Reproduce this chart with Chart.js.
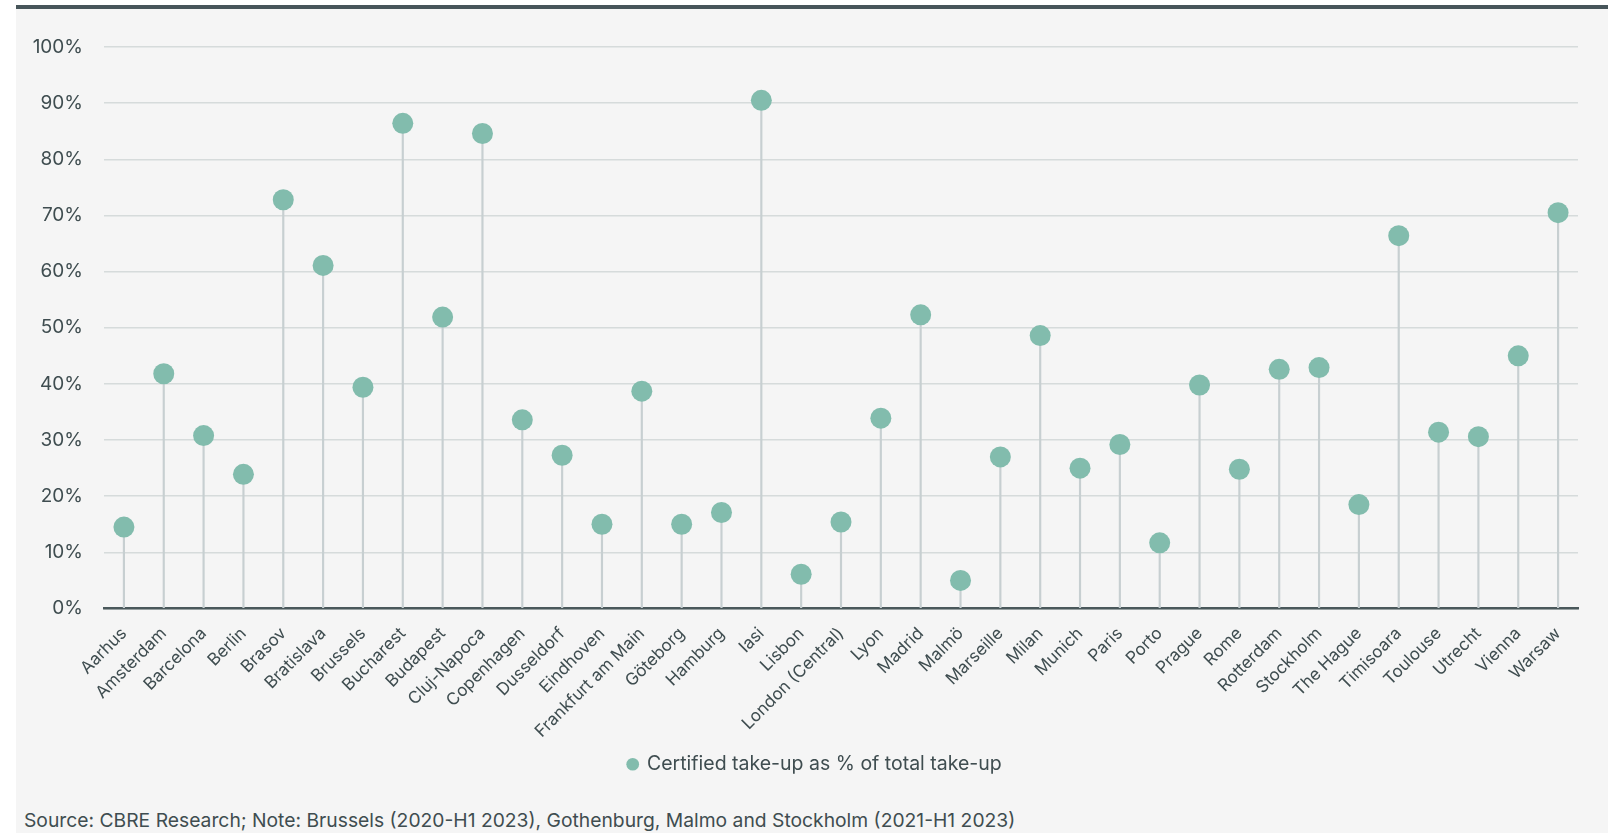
<!DOCTYPE html>
<html>
<head>
<meta charset="utf-8">
<script src="https://cdn.jsdelivr.net/npm/chart.js@4"></script>
<style>
  html, body { margin: 0; padding: 0; background: #ffffff; }
  body { width: 1616px; height: 833px; position: relative; overflow: hidden; font-family: 'Inter', sans-serif; }
  .panel { position: absolute; left: 16px; top: 5px; width: 1592px; height: 828px; background: #f5f5f5; border-top: 4px solid #47555a; box-sizing: border-box; }
  #chart { position: absolute; left: 0; top: 0; }
  .source { position: absolute; left: 8px; top: 799px; font-size: 19.3px; color: #3f4d50; white-space: nowrap; }
</style>
</head>
<body>
<div class="panel">
  <canvas id="chart" width="1592" height="781"></canvas>
  <div class="source">Source: CBRE Research; Note: Brussels (2020-H1 2023), Gothenburg, Malmo and Stockholm (2021-H1 2023)</div>
</div>
<script>
const CITIES = ['Aarhus', 'Amsterdam', 'Barcelona', 'Berlin', 'Brasov', 'Bratislava', 'Brussels', 'Bucharest',
  'Budapest', 'Cluj-Napoca', 'Copenhagen', 'Dusseldorf', 'Eindhoven', 'Frankfurt am Main', 'Göteborg', 'Hamburg',
  'Iasi', 'Lisbon', 'London (Central)', 'Lyon', 'Madrid', 'Malmö', 'Marseille', 'Milan', 'Munich', 'Paris', 'Porto',
  'Prague', 'Rome', 'Rotterdam', 'Stockholm', 'The Hague', 'Timisoara', 'Toulouse', 'Utrecht', 'Vienna', 'Warsaw'];

const CERTIFIED_SHARE = [14.5, 41.8, 30.8, 23.9, 72.8, 61.1, 39.4, 86.4, 51.9, 84.6, 33.6, 27.3, 15.0, 38.7, 15.0, 17.1,
  90.5, 6.1, 15.4, 33.9, 52.3, 5.0, 27.0, 48.6, 25.0, 29.2, 11.7, 39.8, 24.8, 42.6, 42.9, 18.5, 66.4, 31.4, 30.6, 45.0, 70.5];

const Y_TICKS = [0, 10, 20, 30, 40, 50, 60, 70, 80, 90, 100];

const TEXT = '#3f4d50';
const DOT = '#82bcad';
const STEM = '#c7cfd1';

// the right padding pulls the legend off-centre; nudge it back over the panel middle
const legendNudge = {
  id: 'legendNudge',
  afterLayout(chart) {
    chart.legend.left += 18;
    chart.legend.right += 18;
  },
};

const ctx = document.getElementById('chart').getContext('2d');
new Chart(ctx, {
  data: {
    labels: CITIES,
    datasets: [
      {
        type: 'line',
        label: 'Certified take-up as % of total take-up',
        data: CERTIFIED_SHARE,
        showLine: false,
        pointRadius: 10.5,
        pointHoverRadius: 10.5,
        pointBackgroundColor: DOT,
        pointBorderWidth: 0,
        backgroundColor: DOT,
        borderColor: DOT,
        order: 0,
      },
      {
        type: 'bar',
        label: 'stem',
        data: CERTIFIED_SHARE,
        backgroundColor: STEM,
        barThickness: 1.5,
        order: 1,
      },
    ],
  },
  plugins: [legendNudge],
  options: {
    responsive: false,
    devicePixelRatio: 1,
    animation: false,
    layout: { padding: { top: 38, right: 30, left: 0, bottom: 6 } },
    plugins: {
      tooltip: { enabled: false },
      legend: {
        position: 'bottom',
        labels: {
          filter: (item) => item.text !== 'stem',
          usePointStyle: true,
          pointStyle: 'circle',
          boxWidth: 9,
          boxHeight: 9,
          padding: 10,
          color: TEXT,
          font: { family: 'Inter', size: 19.5 },
        },
      },
    },
    scales: {
      x: {
        grid: { display: false, drawTicks: false },
        border: { color: '#4a585b', width: 2.5 },
        ticks: {
          color: TEXT,
          font: { family: 'Inter', size: 17 },
          maxRotation: 45,
          minRotation: 45,
          autoSkip: false,
          padding: 15,
        },
        afterFit: (scale) => { scale.height = 136; },
      },
      y: {
        min: 0,
        max: 100,
        afterBuildTicks: (scale) => { scale.ticks = Y_TICKS.map(v => ({ value: v })); },
        grid: { color: '#d6dbdb', lineWidth: 1.5, drawTicks: false },
        border: { display: false },
        ticks: {
          color: TEXT,
          font: { family: 'Inter', size: 19 },
          padding: 21,
          callback: (v) => v + '%',
        },
        afterFit: (scale) => { scale.width = 88; },
      },
    },
  },
});
</script>
</body>
</html>
